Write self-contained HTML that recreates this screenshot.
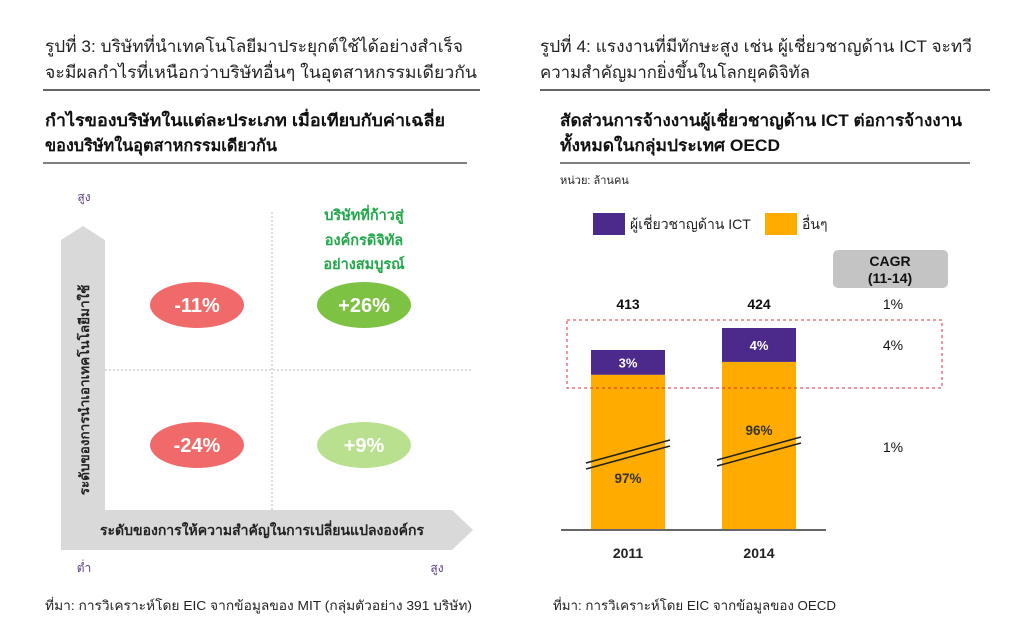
<!DOCTYPE html>
<html><head><meta charset="utf-8"><style>
body{margin:0;background:#fff;width:1027px;height:620px;overflow:hidden;font-family:"Liberation Sans","Noto Sans CJK SC","WenQuanYi Zen Hei",sans-serif}
</style></head><body>
<svg width="1027" height="620" xmlns="http://www.w3.org/2000/svg" font-family="Liberation Sans, Noto Sans CJK SC, WenQuanYi Zen Hei, sans-serif">
<g>
<text x="45" y="52" font-size="17" fill="#222" textLength="418" lengthAdjust="spacingAndGlyphs">รูปที่ 3: บริษัทที่นำเทคโนโลยีมาประยุกต์ใช้ได้อย่างสำเร็จ</text>
<text x="45" y="78" font-size="17" fill="#222" textLength="432" lengthAdjust="spacingAndGlyphs">จะมีผลกำไรที่เหนือกว่าบริษัทอื่นๆ ในอุตสาหกรรมเดียวกัน</text>
<line x1="43" y1="90" x2="480" y2="90" stroke="#333" stroke-width="1.5"/>
<text x="45" y="126" font-size="16.5" font-weight="bold" fill="#111" textLength="400" lengthAdjust="spacingAndGlyphs">กำไรของบริษัทในแต่ละประเภท เมื่อเทียบกับค่าเฉลี่ย</text>
<text x="45" y="151" font-size="16.5" font-weight="bold" fill="#111" textLength="232" lengthAdjust="spacingAndGlyphs">ของบริษัทในอุตสาหกรรมเดียวกัน</text>
<line x1="43" y1="163" x2="467" y2="163" stroke="#333" stroke-width="1.2"/>
<path d="M61,550 L61,240 L83,226 L105,240 L105,510 L452,510 L473,530 L452,550 Z" fill="#d9d9d9"/>
<line x1="272" y1="212" x2="272" y2="510" stroke="#bbb" stroke-dasharray="2,2"/>
<line x1="105" y1="370" x2="473" y2="370" stroke="#bbb" stroke-dasharray="2,2"/>
<text x="84" y="201" font-size="12" fill="#5a3c8a" text-anchor="middle">สูง</text>
<text x="84" y="572" font-size="12" fill="#5a3c8a" text-anchor="middle">ต่ำ</text>
<text x="437" y="572" font-size="12" fill="#5a3c8a" text-anchor="middle">สูง</text>
<text transform="translate(89,390) rotate(-90)" font-size="13.5" font-weight="bold" fill="#222" text-anchor="middle">ระดับของการนำเอาเทคโนโลยีมาใช้</text>
<text x="262" y="535" font-size="14" font-weight="bold" fill="#222" text-anchor="middle">ระดับของการให้ความสำคัญในการเปลี่ยนแปลงองค์กร</text>
<g font-size="14.5" font-weight="bold" fill="#22a84a" text-anchor="middle">
<text x="364" y="220">บริษัทที่ก้าวสู่</text><text x="364" y="245">องค์กรดิจิทัล</text><text x="364" y="269">อย่างสมบูรณ์</text></g>
<g id="quad"></g>
<text x="45" y="610" font-size="13" fill="#222" textLength="427" lengthAdjust="spacingAndGlyphs">ที่มา: การวิเคราะห์โดย EIC จากข้อมูลของ MIT (กลุ่มตัวอย่าง 391 บริษัท)</text>
</g>
<g>
<text x="540" y="52" font-size="17" fill="#222" textLength="432" lengthAdjust="spacingAndGlyphs">รูปที่ 4: แรงงานที่มีทักษะสูง เช่น ผู้เชี่ยวชาญด้าน ICT จะทวี</text>
<text x="540" y="78" font-size="17" fill="#222" textLength="270" lengthAdjust="spacingAndGlyphs">ความสำคัญมากยิ่งขึ้นในโลกยุคดิจิทัล</text>
<line x1="540" y1="90" x2="990" y2="90" stroke="#333" stroke-width="1.5"/>
<text x="560" y="126" font-size="16.5" font-weight="bold" fill="#111" textLength="402" lengthAdjust="spacingAndGlyphs">สัดส่วนการจ้างงานผู้เชี่ยวชาญด้าน ICT ต่อการจ้างงาน</text>
<text x="560" y="151" font-size="16.5" font-weight="bold" fill="#111" textLength="220" lengthAdjust="spacingAndGlyphs">ทั้งหมดในกลุ่มประเทศ OECD</text>
<line x1="560" y1="163" x2="970" y2="163" stroke="#333" stroke-width="1.2"/>
<text x="560" y="184" font-size="11" fill="#222">หน่วย: ล้านคน</text>
<g>
<rect x="593" y="213" width="32" height="22" fill="#4b2a8c"/>
<text x="630" y="229" font-size="14" fill="#222">ผู้เชี่ยวชาญด้าน ICT</text>
<rect x="765" y="213" width="32" height="22" fill="#ffab00"/>
<text x="802" y="229" font-size="14" fill="#222">อื่นๆ</text></g>
<rect x="833" y="250" width="115" height="38" rx="5" fill="#c4c4c4"/>
<text x="890" y="266" font-size="14" font-weight="bold" text-anchor="middle" fill="#111">CAGR</text>
<text x="890" y="283" font-size="14" font-weight="bold" text-anchor="middle" fill="#111">(11-14)</text>
<g id="bars"></g>
<rect x="567" y="320" width="375" height="68" fill="none" stroke="#e03040" stroke-dasharray="3,3"/>
<line x1="561" y1="530" x2="826" y2="530" stroke="#666" stroke-width="2"/>
<text x="553" y="610" font-size="13" fill="#222" textLength="283" lengthAdjust="spacingAndGlyphs">ที่มา: การวิเคราะห์โดย EIC จากข้อมูลของ OECD</text>
</g>
</svg>
<script>
const quadLabels=["-11%","+26%","-24%","+9%"];
const quadColors=["#f06a6a","#7dc242","#f06a6a","#b8e08e"];
const years=["2011","2014"];
const totals=[413,424];
const ictShare=[3,4];
const otherShare=[97,96];
const cagrLabels=["1%","4%","1%"];
const NS="http://www.w3.org/2000/svg";
function mk(t,a,p){const e=document.createElementNS(NS,t);for(const k in a)e.setAttribute(k,a[k]);p.appendChild(e);return e;}
const q=document.getElementById('quad');
const qx=[197,364],qy=[305,445];
quadLabels.forEach((l,i)=>{
 const cx=qx[i%2],cy=qy[Math.floor(i/2)];
 const el=mk('ellipse',{cx:cx,cy:cy,rx:47,ry:23,fill:quadColors[i]},q);
 
 
 const t=mk('text',{x:cx,y:cy+7,'font-size':20,'font-weight':'bold',fill:'#fff','text-anchor':'middle'},q);t.textContent=l;
 
 
});
const b=document.getElementById('bars');
const base=530,brk=323,ppu=2;
const y=v=>base-(v-brk)*ppu;
const xc=[628,759];
years.forEach((yr,i)=>{
 const top=y(totals[i]);
 const ictH=totals[i]*ictShare[i]/100*ppu;
 const o=mk('rect',{x:xc[i]-37,y:top+ictH,width:74,height:base-top-ictH,fill:'#ffab00'},b);
 
 
 const p=mk('rect',{x:xc[i]-37,y:top,width:74,height:ictH,fill:'#4b2a8c'},b);
 
 
 let t=mk('text',{x:xc[i],y:top+ictH/2+5,'font-size':13,'font-weight':'bold',fill:'#fff','text-anchor':'middle'},b);t.textContent=ictShare[i]+'%';
 const by=i==0?450:447;
 mk('line',{x1:xc[i]-42,y1:by+13,x2:xc[i]+42,y2:by-10,stroke:'#222','stroke-width':1.5},b);
 mk('line',{x1:xc[i]-42,y1:by+19,x2:xc[i]+42,y2:by-4,stroke:'#222','stroke-width':1.5},b);
 t=mk('text',{x:xc[i],y:i==0?483:435,'font-size':13.5,'font-weight':'bold',fill:'#333','text-anchor':'middle'},b);t.textContent=otherShare[i]+'%';
 t=mk('text',{x:xc[i],y:309,'font-size':14,'font-weight':'bold',fill:'#111','text-anchor':'middle'},b);t.textContent=totals[i];
 
 
 t=mk('text',{x:xc[i],y:558,'font-size':14,'font-weight':'bold',fill:'#222','text-anchor':'middle'},b);t.textContent=yr;
 
 
});
const cy=[309,350,452];
cagrLabels.forEach((c,i)=>{const t=mk('text',{x:893,y:cy[i],'font-size':14,fill:'#111','text-anchor':'middle'},b);t.textContent=c;
 
 });
</script>
</body></html>
